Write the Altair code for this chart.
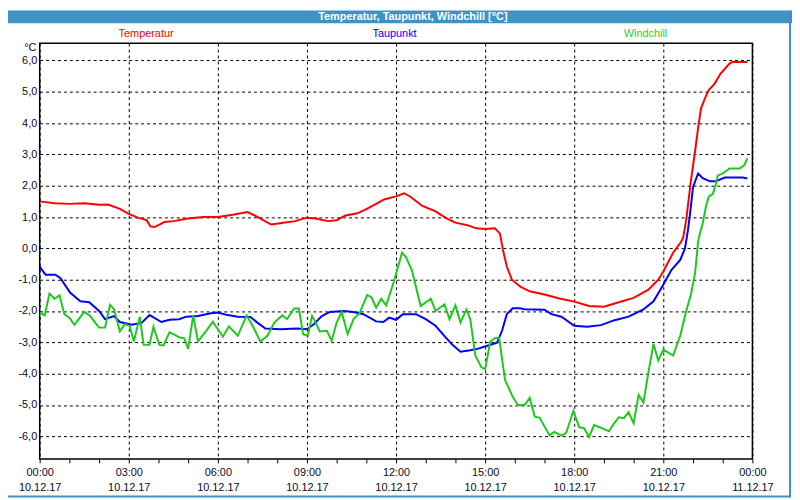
import json
import altair as alt
import pandas as pd

# ---------------- data (hours since 10.12.17 00:00, °C) ----------------
series = ["Temperatur", "Taupunkt", "Windchill"]
colors = ["#ff0000", "#0000ff", "#1ec81e"]

temp_h = [0.00, 0.50, 1.00, 1.50, 2.00, 2.30, 2.70, 3.00, 3.30, 3.60, 3.73, 3.87, 4.20, 4.50,
          5.00, 5.50, 6.00, 6.50, 7.00, 7.30, 7.60, 7.80, 8.20, 8.60, 9.00, 9.30, 9.70, 10.00,
          10.30, 10.70, 11.00, 11.33, 11.60, 12.00, 12.27, 12.50, 12.87, 13.33, 13.70, 14.00,
          14.40, 14.70, 15.00, 15.33, 15.50, 15.60, 15.73, 15.90, 16.20, 16.50, 17.00, 17.50,
          18.00, 18.50, 19.00, 19.50, 20.00, 20.50, 20.83, 21.00, 21.33, 21.60, 21.67, 21.77,
          21.93, 22.07, 22.17, 22.27, 22.40, 22.53, 22.73, 22.93, 23.23, 23.33, 23.83]
temp_v = [1.50, 1.44, 1.42, 1.44, 1.39, 1.40, 1.26, 1.10, 0.98, 0.90, 0.70, 0.68, 0.84, 0.87,
          0.95, 1.00, 1.00, 1.07, 1.16, 1.02, 0.86, 0.76, 0.82, 0.87, 0.98, 0.95, 0.87, 0.90,
          1.05, 1.12, 1.25, 1.42, 1.56, 1.66, 1.76, 1.64, 1.36, 1.18, 0.96, 0.82,
          0.74, 0.64, 0.62, 0.64, 0.47, -0.05, -0.58, -1.00, -1.23, -1.37, -1.47, -1.60,
          -1.70, -1.84, -1.86, -1.72, -1.58, -1.32, -1.00, -0.74, -0.14, 0.21, 0.35, 0.90,
          2.16, 3.10, 3.84, 4.47, 4.79, 5.05, 5.26, 5.58, 5.90, 5.95, 5.95]

dew_h = [0.00, 0.03, 0.20, 0.53, 0.70, 1.03, 1.37, 1.67, 2.00, 2.20, 2.50, 2.70, 3.10, 3.43,
         3.70, 4.10, 4.37, 4.70, 4.93, 5.33, 5.77, 6.00, 6.33, 6.67, 7.10, 7.33, 7.60, 8.10,
         8.67, 9.00, 9.23, 9.50, 9.77, 10.23, 10.57, 10.90, 11.33, 11.57, 11.77, 12.00, 12.23,
         12.67, 13.00, 13.33, 13.67, 13.90, 14.17, 14.50, 14.77, 15.10, 15.40, 15.57, 15.73,
         15.93, 16.17, 16.33, 17.00, 17.23, 17.57, 18.00, 18.43, 18.90, 19.33, 19.83, 20.33,
         20.67, 21.00, 21.27, 21.57, 21.73, 21.83, 21.90, 22.00, 22.17, 22.33, 22.57, 22.77,
         23.07, 23.67, 23.83]
dew_v = [-0.56, -0.63, -0.84, -0.84, -0.95, -1.42, -1.69, -1.72, -2.00, -2.26, -2.16, -2.35,
         -2.44, -2.38, -2.13, -2.35, -2.28, -2.26, -2.18, -2.16, -2.07, -2.05, -2.13, -2.18,
         -2.19, -2.37, -2.56, -2.58, -2.56, -2.58, -2.42, -2.16, -2.03, -2.00, -2.03, -2.10,
         -2.33, -2.35, -2.21, -2.28, -2.10, -2.10, -2.26, -2.47, -2.84, -3.08, -3.30, -3.25,
         -3.20, -3.10, -3.01, -2.63, -2.10, -1.91, -1.91, -1.94, -1.96, -2.10, -2.18, -2.47,
         -2.50, -2.45, -2.30, -2.18, -1.95, -1.69, -1.16, -0.69, -0.37, 0.00, 0.58, 1.10,
         1.95, 2.39, 2.24, 2.14, 2.14, 2.26, 2.26, 2.23]

wc_h = [0.00, 0.17, 0.33, 0.50, 0.67, 0.83, 1.00, 1.17, 1.50, 1.70, 2.00, 2.20, 2.37, 2.50,
        2.70, 2.87, 3.03, 3.17, 3.37, 3.50, 3.70, 3.83, 4.03, 4.17, 4.37, 4.50, 4.70, 4.87,
        5.00, 5.17, 5.33, 5.57, 5.83, 6.17, 6.37, 6.67, 6.97, 7.17, 7.43, 7.67, 7.90, 8.17,
        8.33, 8.57, 8.73, 8.87, 9.03, 9.17, 9.30, 9.43, 9.67, 9.83, 10.00, 10.17, 10.37,
        10.57, 10.77, 11.03, 11.17, 11.33, 11.50, 11.67, 11.93, 12.20, 12.33, 12.53, 12.83,
        13.17, 13.33, 13.63, 13.80, 14.00, 14.17, 14.37, 14.50, 14.67, 14.87, 15.00, 15.17,
        15.33, 15.47, 15.67, 15.93, 16.10, 16.33, 16.50, 16.67, 16.83, 17.17, 17.33, 17.57,
        17.73, 17.97, 18.17, 18.33, 18.50, 18.67, 18.93, 19.17, 19.33, 19.50, 19.67, 19.83,
        20.00, 20.17, 20.33, 20.50, 20.67, 20.83, 21.00, 21.33, 21.57, 21.77, 21.93, 22.07,
        22.17, 22.23, 22.33, 22.43, 22.53, 22.67, 22.77, 22.83, 23.00, 23.23, 23.57, 23.73,
        23.83]
wc_v = [-2.05, -2.14, -1.44, -1.61, -1.50, -2.10, -2.21, -2.44, -2.03, -2.16, -2.53, -2.53,
        -1.80, -1.94, -2.65, -2.42, -2.47, -2.97, -2.19, -3.08, -3.08, -2.50, -3.08, -3.10,
        -2.68, -2.74, -2.84, -2.87, -3.21, -2.14, -2.97, -2.68, -2.34, -2.82, -2.49, -2.79,
        -2.14, -2.47, -2.97, -2.79, -2.37, -2.14, -2.26, -1.92, -1.92, -2.74, -2.79, -2.16,
        -2.38, -2.65, -2.63, -2.95, -2.37, -2.03, -2.74, -2.26, -2.07, -1.49, -1.56, -1.89,
        -1.61, -1.82, -1.05, -0.14, -0.27, -0.69, -1.84, -1.61, -2.00, -1.79, -2.26, -1.82,
        -2.37, -1.95, -2.26, -3.42, -3.79, -3.86, -2.98, -2.87, -2.85, -4.20, -4.74, -5.00,
        -5.00, -4.77, -5.37, -5.40, -5.97, -5.86, -5.98, -5.89, -5.19, -5.71, -5.74, -6.02,
        -5.64, -5.74, -5.84, -5.60, -5.39, -5.42, -5.23, -5.58, -4.68, -4.92, -3.95, -3.05,
        -3.58, -3.23, -3.42, -2.79, -2.00, -1.47, -0.79, 0.20, 0.47, 0.81, 1.31, 1.65, 1.74,
        2.05, 2.32, 2.39, 2.55, 2.55, 2.66, 2.87]

x_times = ["00:00", "03:00", "06:00", "09:00", "12:00", "15:00", "18:00", "21:00", "00:00"]
x_dates = ["10.12.17"] * 8 + ["11.12.17"]
y_ticks = [-6, -5, -4, -3, -2, -1, 0, 1, 2, 3, 4, 5, 6]
y_labels = ["-6,0", "-5,0", "-4,0", "-3,0", "-2,0", "-1,0", "0,0",
            "1,0", "2,0", "3,0", "4,0", "5,0", "6,0"]
title_text = "Temperatur, Taupunkt, Windchill [°C]"
unit_text = "°C"

# ---------------- build table ----------------
rows = []
for name, hs, vs in [(series[0], temp_h, temp_v), (series[1], dew_h, dew_v), (series[2], wc_h, wc_v)]:
    for i, (h, v) in enumerate(zip(hs, vs)):
        rows.append({"s": name, "h": h, "v": v, "o": i})
df = pd.DataFrame(rows)

FONT = "Liberation Sans"
TXT = "#0a0a28"
BAR = "#3f92c6"

x_expr = (f"datum.value % 3 === 0 ? [{json.dumps(x_times)}[datum.value/3], "
          f"{json.dumps(x_dates)}[datum.value/3]] : ''")
y_expr = f"{json.dumps(y_labels)}[datum.value + 6]"

x_axis = alt.Axis(
    values=list(range(25)), labelExpr=x_expr, title=None, domain=False,
    tickSize=4, tickColor="black", labelPadding=4, labelLineHeight=15,
    labelFont=FONT, labelFontSize=11, labelColor=TXT, labelFlush=False, labelOverlap=False,
    grid=True, gridColor="black", gridDash=[3, 3], gridWidth=1,
    gridOpacity={"condition": {"test": "datum.value % 3 === 0", "value": 1}, "value": 0},
)
y_axis = alt.Axis(
    values=y_ticks, labelExpr=y_expr, title=unit_text, titleAngle=0, titleX=-10, titleY=4,
    titleAlign="center", titleBaseline="middle", titleFont=FONT, titleFontSize=11,
    titleFontWeight="normal", titleColor=TXT, domain=False, ticks=False, tickSize=0,
    labelPadding=3, labelFont=FONT, labelFontSize=11, labelColor=TXT,
    grid=True, gridColor="black", gridDash=[3, 3], gridWidth=1,
)

lines = alt.Chart(df).mark_line(strokeWidth=2, clip=True).encode(
    x=alt.X("h:Q", scale=alt.Scale(domain=[0, 24], nice=False, zero=False), axis=x_axis),
    y=alt.Y("v:Q", scale=alt.Scale(domain=[-6.72, 6.55], nice=False, zero=False), axis=y_axis),
    color=alt.Color("s:N", scale=alt.Scale(domain=series, range=colors), legend=None,
                    sort=series),
    order="o:Q",
)

one = pd.DataFrame({"t": [title_text]})
bar = alt.Chart(one).mark_rect(color=BAR).encode(
    x=alt.value(-32), x2=alt.value(760), y=alt.value(-33), y2=alt.value(-20))
title = alt.Chart(one).mark_text(font=FONT, fontSize=11, fontWeight="bold", color="white",
                                 align="center", baseline="middle").encode(
    x=alt.value(377), y=alt.value(-26.5), text="t:N")

legend_layers = []
for name, col, px in zip(series, colors, [107.5, 358.5, 612]):
    legend_layers.append(
        alt.Chart(pd.DataFrame({"t": [name]})).mark_text(
            font=FONT, fontSize=11, color=col if name != "Windchill" else "#33cc33",
            align="center", baseline="middle").encode(x=alt.value(px), y=alt.value(-9), text="t:N"))

right_border = alt.Chart(one).mark_rule(color=BAR, strokeWidth=2).encode(
    x=alt.value(758), y=alt.value(-33), y2=alt.value(459))
bottom_border = alt.Chart(one).mark_rule(color=BAR, strokeWidth=2).encode(
    x=alt.value(-32), x2=alt.value(759), y=alt.value(458))

chart = alt.layer(lines, bar, title, *legend_layers, right_border, bottom_border).properties(
    width=720, height=420,
    autosize=alt.AutoSizeParams(type="none"),
    padding={"left": 32, "top": 33, "right": 40, "bottom": 39},
    background="#ffffff",
).configure_view(stroke="black", strokeWidth=1.5)

chart.save("out.html", embed_options={"renderer": "svg", "actions": False})
